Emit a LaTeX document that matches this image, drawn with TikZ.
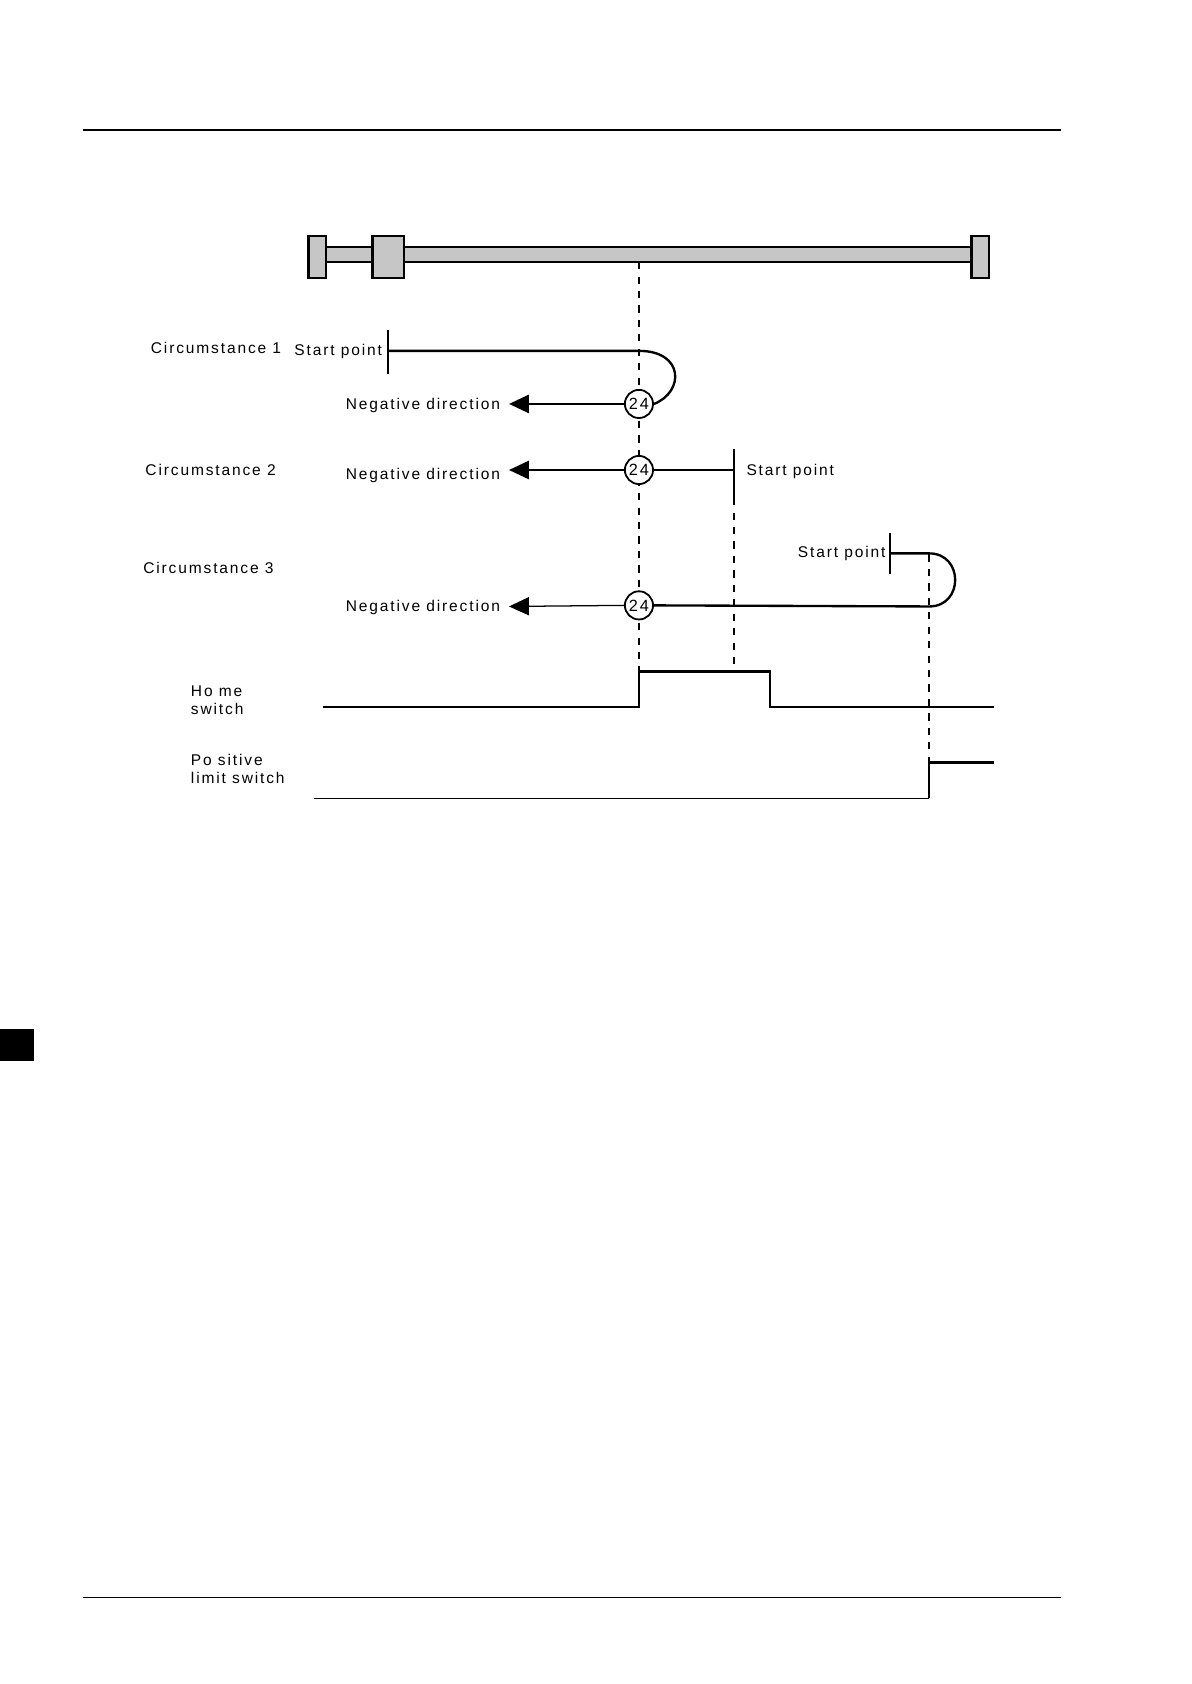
\documentclass[tikz,border=0pt]{standalone}
\usepackage{fontspec}
\setmainfont{Liberation Sans}[LetterSpace=12]
\usetikzlibrary{arrows.meta}
\begin{document}
\begin{tikzpicture}[x=0.6pt,y=-0.6pt,
  thick line/.style={line width=1.3pt},
  thin line/.style={line width=0.7pt},
  dash line/.style={line width=1.3pt,dash pattern=on 4pt off 4pt},
  lbl/.style={font=\fontsize{8.6}{10}\selectfont,inner sep=0pt},
  marker/.style={circle,draw,line width=1pt,fill=white,minimum size=15.6pt,inner sep=0pt,font=\fontsize{9}{10}\selectfont},
  arr/.style={-{Triangle[length=11pt,width=10pt]}},
  block/.style={draw,line width=1.3pt,fill=gray!45}]
\useasboundingbox (0,0) rectangle (1100,1555);
% header / footer
\draw[thin line] (77,120) -- (980,120);
\draw[thin line] (77,1475) -- (980,1475);
\fill (0,950) rectangle (31,980);
% rail
\draw[block] (300,228) rectangle (898,242);
\draw[block] (285,218) rectangle (301,257);
\draw[block] (344,218) rectangle (373,257);
\draw[block] (897,218) rectangle (913,257);
% dashed guides
\draw[dash line] (590,242) -- (590,620);
\draw[dash line] (678,460) -- (678,618);
\draw[dash line] (858,512) -- (858,737);
% Circumstance 1
\node[lbl,anchor=west] (c1) at (139,321) {Circumstance 1};
\node[lbl,anchor=east] (s1) at (353,325) {Start point};
\coordinate (t1a) at (358,305); \coordinate (t1b) at (358,345);
\draw[thick line] (t1a) -- (t1b);
\coordinate (p1) at (358,324); \coordinate (q1) at (590,324);
\node[marker] (m1) at (590,373) {24};
\draw[thick line] (p1) -- (q1) .. controls (632,324) and (632,362) .. (m1.east);
\node[lbl,anchor=east] (n1) at (462,374) {Negative direction};
\coordinate (e1) at (470,373);
\draw[thick line,arr] (m1.west) -- (e1);
% Circumstance 2
\node[lbl,anchor=west] (c2) at (134,434) {Circumstance 2};
\node[marker] (m2) at (590,434) {24};
\node[lbl,anchor=east] (n2) at (462,439) {Negative direction};
\coordinate (e2) at (470,434);
\draw[thick line,arr] (m2.west) -- (e2);
\coordinate (t2) at (678,434);
\draw[thick line] (m2.east) -- (t2);
\draw[thick line] (678,415) -- (678,460);
\node[lbl,anchor=west] (s2) at (689,435) {Start point};
% Circumstance 3
\node[lbl,anchor=west] (c3) at (132,524) {Circumstance 3};
\node[lbl,anchor=east] (s3) at (818,511) {Start point};
\draw[thick line] (822,492) -- (822,530);
\node[marker] (m3) at (590,559) {24};
\coordinate (p3) at (822,511); \coordinate (q3) at (858,511); \coordinate (r3) at (858,560);
\draw[thick line] (p3) -- (q3) .. controls (890,511) and (890,560) .. (r3) -- (m3.east);
\node[lbl,anchor=east] (n3) at (462,561) {Negative direction};
\coordinate (e3) at (470,560);
\draw[thin line,arr] (m3.west) -- (e3);
% Home switch
\node[lbl,anchor=west,align=left] (hs) at (176,647) {Ho me\\switch};
\draw[thick line] (298,653) -- (590,653) -- (590,620) -- (711,620) -- (711,653) -- (918,653);
% Positive limit switch
\node[lbl,anchor=west,align=left] (pl) at (176,710) {Po sitive\\limit switch};
\draw[thin line] (290,737) -- (858,737);
\draw[thick line] (858,737) -- (858,704) -- (918,704);
\end{tikzpicture}
\end{document}
